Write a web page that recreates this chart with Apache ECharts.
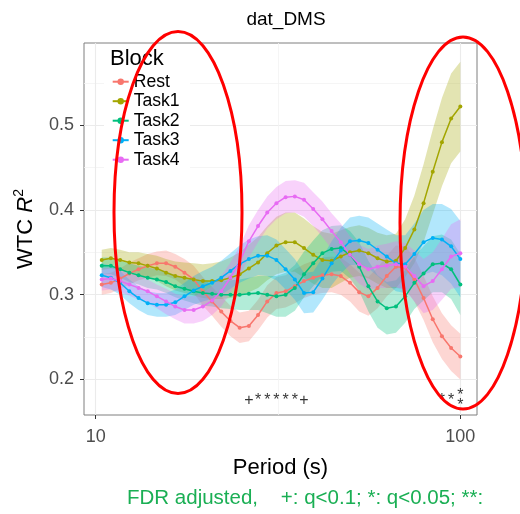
<!DOCTYPE html>
<html><head><meta charset="utf-8">
<script src="https://cdn.jsdelivr.net/npm/echarts@6/dist/echarts.min.js"></script>
<style>html,body{margin:0;padding:0;background:#fff}#c{width:520px;height:514px}</style>
</head><body><div id="c"></div>
<script>
// ---- data ----
const periods = [10.39,11.01,11.67,12.37,13.11,13.89,14.72,15.60,16.53,17.52,
  18.57,19.68,20.86,22.10,23.42,24.82,26.31,27.88,29.55,31.31,
  33.18,35.17,37.27,39.50,41.86,44.36,47.01,49.82,52.80,55.96,
  59.30,62.85,66.60,70.59,74.81,79.28,84.02,89.04,94.36,100.00];

const rest  = [0.312,0.314,0.319,0.325,0.330,0.334,0.337,0.337,0.333,0.326,
  0.318,0.304,0.292,0.280,0.269,0.261,0.263,0.276,0.292,0.302,
  0.304,0.310,0.316,0.320,0.323,0.324,0.322,0.314,0.303,0.298,
  0.308,0.322,0.333,0.332,0.318,0.296,0.271,0.251,0.237,0.227];
const task1 = [0.341,0.343,0.341,0.338,0.337,0.334,0.331,0.326,0.322,0.320,
  0.318,0.316,0.316,0.317,0.320,0.324,0.331,0.338,0.349,0.358,
  0.362,0.362,0.355,0.347,0.341,0.340,0.345,0.350,0.352,0.349,
  0.343,0.339,0.340,0.355,0.377,0.408,0.445,0.480,0.508,0.522];
const task2 = [0.334,0.334,0.330,0.326,0.323,0.320,0.318,0.315,0.310,0.307,
  0.304,0.302,0.301,0.300,0.300,0.300,0.301,0.302,0.300,0.298,
  0.300,0.308,0.324,0.337,0.349,0.354,0.355,0.347,0.333,0.310,
  0.292,0.284,0.286,0.298,0.314,0.325,0.336,0.337,0.330,0.312];
const task3 = [0.323,0.320,0.314,0.304,0.296,0.290,0.288,0.288,0.291,0.298,
  0.305,0.310,0.314,0.320,0.328,0.336,0.342,0.346,0.346,0.341,
  0.330,0.318,0.302,0.303,0.319,0.337,0.352,0.363,0.364,0.361,
  0.353,0.345,0.337,0.336,0.348,0.362,0.367,0.365,0.357,0.342];
const task4 = [0.318,0.319,0.316,0.312,0.308,0.304,0.298,0.292,0.286,0.282,
  0.282,0.286,0.293,0.304,0.320,0.339,0.363,0.381,0.397,0.408,
  0.415,0.416,0.412,0.401,0.389,0.375,0.362,0.347,0.336,0.330,
  0.333,0.334,0.336,0.333,0.322,0.310,0.316,0.330,0.345,0.349];

// half widths of the confidence ribbons
const restHW  = [0.012,0.012,0.012,0.013,0.013,0.014,0.014,0.015,0.015,0.016,
  0.016,0.017,0.017,0.018,0.018,0.018,0.018,0.018,0.019,0.019,
  0.019,0.020,0.020,0.020,0.021,0.021,0.022,0.022,0.023,0.023,
  0.024,0.024,0.025,0.025,0.026,0.026,0.027,0.027,0.027,0.027];
const task1HW = [0.012,0.012,0.012,0.012,0.013,0.014,0.015,0.016,0.017,0.018,
  0.019,0.020,0.021,0.022,0.024,0.026,0.028,0.030,0.032,0.034,
  0.035,0.035,0.035,0.034,0.033,0.032,0.031,0.030,0.030,0.030,
  0.030,0.031,0.032,0.034,0.040,0.046,0.050,0.052,0.053,0.053];
const task2HW = [0.010,0.010,0.010,0.011,0.011,0.012,0.012,0.013,0.013,0.014,
  0.014,0.015,0.015,0.016,0.017,0.018,0.019,0.020,0.022,0.024,
  0.026,0.027,0.027,0.027,0.027,0.027,0.027,0.028,0.029,0.030,
  0.031,0.031,0.031,0.031,0.031,0.032,0.033,0.034,0.035,0.036];
const task3HW = [0.014,0.014,0.014,0.014,0.014,0.014,0.014,0.014,0.015,0.016,
  0.017,0.018,0.019,0.020,0.021,0.022,0.023,0.023,0.024,0.024,
  0.024,0.024,0.024,0.024,0.025,0.026,0.027,0.028,0.029,0.030,
  0.031,0.032,0.033,0.034,0.036,0.038,0.040,0.042,0.044,0.045];
const task4HW = [0.013,0.013,0.013,0.013,0.014,0.014,0.014,0.015,0.015,0.016,
  0.016,0.017,0.017,0.018,0.018,0.018,0.019,0.019,0.019,0.019,
  0.019,0.019,0.020,0.020,0.021,0.021,0.022,0.022,0.023,0.024,
  0.025,0.026,0.027,0.028,0.030,0.032,0.034,0.036,0.038,0.040];

const seriesNames = ['Rest','Task1','Task2','Task3','Task4'];
const yTicks = [0.2, 0.3, 0.4, 0.5];
const yMinorGrid = [0.25, 0.35, 0.45, 0.55];
const xTicks = [10, 100];
const xMinorGrid = [31.62];

const annotPeriods = [26.31,27.88,29.55,31.31,33.18,35.17,37.27,89.04,94.36,100.00];
const annotLabels  = ['+','*','*','*','*','*','+','*','*','*\n*'];

// ---- styling ----
const colors = ['#F8766D','#A3A500','#00BF7D','#00B0F6','#E76BF3'];
const means = [rest, task1, task2, task3, task4];
const hws = [restHW, task1HW, task2HW, task3HW, task4HW];
const FONT = '"Liberation Sans", Arial, Helvetica, sans-serif';
const ANNOT_Y = 0.175;

const chart = echarts.init(document.getElementById('c'), null, {renderer: 'canvas'});

const gridLines = [];
yTicks.forEach(v => gridLines.push({yAxis: v, lineStyle: {color: '#EBEBEB', width: 1.1, type: 'solid'}}));
yMinorGrid.forEach(v => gridLines.push({yAxis: v, lineStyle: {color: '#F2F2F2', width: 0.8, type: 'solid'}}));
xTicks.forEach(v => gridLines.push({xAxis: v, lineStyle: {color: '#EBEBEB', width: 1.1, type: 'solid'}}));
xMinorGrid.forEach(v => gridLines.push({xAxis: v, lineStyle: {color: '#F2F2F2', width: 0.8, type: 'solid'}}));

const series = [{
  name: 'gridhelper', type: 'line', data: periods.map((p, k) => [p, rest[k]]),
  symbol: 'none', lineStyle: {opacity: 0}, silent: true, z: 1,
  markLine: {silent: true, z: 1, symbol: ['none', 'none'], label: {show: false}, animation: false, data: gridLines}
}];

function bandRenderer(i) {
  return function (params, api) {
    if (params.dataIndex !== 0) return null;
    const upper = [], lower = [];
    for (let k = 0; k < periods.length; k++) {
      upper.push(api.coord([periods[k], means[i][k] + hws[i][k]]));
      lower.push(api.coord([periods[k], means[i][k] - hws[i][k]]));
    }
    const pts = upper.concat(lower.reverse());
    return {
      type: 'polygon',
      shape: {points: pts},
      style: {fill: colors[i], opacity: 0.3, stroke: null}
    };
  };
}

seriesNames.forEach((nm, i) => {
  series.push({
    name: nm + '_band', type: 'custom', silent: true, z: 2,
    renderItem: bandRenderer(i),
    encode: {x: 0, y: [1, 2]},
    data: periods.map((p, k) => [p, means[i][k] - hws[i][k], means[i][k] + hws[i][k]])
  });
  series.push({
    name: nm, type: 'line',
    data: periods.map((p, k) => [p, means[i][k]]),
    symbol: 'circle', symbolSize: 4, showSymbol: true,
    lineStyle: {color: colors[i], width: 1.5}, itemStyle: {color: colors[i]}, z: 2
  });
});

series.push({
  name: 'annot', type: 'scatter', silent: true, z: 20,
  symbolSize: 1, itemStyle: {color: 'transparent'},
  data: annotPeriods.map((p, k) => ({value: [p, ANNOT_Y], label: {formatter: annotLabels[k]}})),
  label: {show: true, position: 'inside', fontSize: 16, lineHeight: 10, color: '#000', fontFamily: FONT}
});

const option = {
  animation: false,
  backgroundColor: '#fff',
  title: {
    text: 'dat_DMS', left: 281, top: 5, textAlign: 'center',
    textStyle: {fontSize: 19, fontWeight: 'normal', color: '#000', fontFamily: FONT}
  },
  grid: {left: 84, right: 43, top: 43, bottom: 99, show: true, borderColor: '#7F7F7F', borderWidth: 1, backgroundColor: '#fff'},
  xAxis: {
    type: 'log', logBase: 10, min: 9.29, max: 111.1,
    splitLine: {show: false}, axisLine: {show: false},
    axisTick: {show: true, length: 4, lineStyle: {color: '#333'}},
    axisLabel: {showMinLabel: false, showMaxLabel: false, fontSize: 18, color: '#4D4D4D', margin: 13, fontFamily: FONT},
    name: 'Period (s)', nameLocation: 'middle', nameGap: 42,
    nameTextStyle: {fontSize: 22, color: '#000', fontFamily: FONT}
  },
  yAxis: {
    type: 'value', min: 0.158, max: 0.597,
    splitLine: {show: false}, axisLine: {show: false},
    axisTick: {show: true, length: 4, lineStyle: {color: '#333'}, customValues: yTicks},
    axisLabel: {customValues: yTicks, formatter: v => (+v).toFixed(1), fontSize: 18, color: '#4D4D4D', margin: 10, fontFamily: FONT},
    name: '{a|WTC }{i|R}{s|2}', nameLocation: 'middle', nameRotate: 90, nameGap: 44,
    nameTextStyle: {
      fontFamily: FONT, color: '#000',
      rich: {
        a: {fontSize: 22, color: '#000', fontFamily: FONT},
        i: {fontSize: 22, color: '#000', fontStyle: 'italic', fontFamily: FONT},
        s: {fontSize: 14, color: '#000', fontFamily: FONT, padding: [0, 0, 14, 0]}
      }
    }
  },
  legend: {
    data: seriesNames, orient: 'vertical', left: 111.7, top: 72.7, padding: 0,
    itemGap: 1.5, itemWidth: 16, itemHeight: 8, selectedMode: false, z: 10,
    textStyle: {fontSize: 17.6, lineHeight: 18, color: '#000', fontFamily: FONT}
  },
  graphic: [
    {type: 'rect', left: 104, top: 44, z: 5, shape: {width: 86, height: 128}, style: {fill: '#fff'}},
    {type: 'text', left: 110, top: 48, z: 11, style: {text: 'Block', fontSize: 22, fill: '#000', fontFamily: FONT}},
    {type: 'ellipse', z: 100, shape: {cx: 178, cy: 212.5, rx: 64, ry: 181}, style: {fill: 'none', stroke: '#FF0000', lineWidth: 3}},
    {type: 'ellipse', z: 100, shape: {cx: 463, cy: 223, rx: 63, ry: 186}, style: {fill: 'none', stroke: '#FF0000', lineWidth: 3}},
    {type: 'text', left: 127, top: 488, z: 11, style: {text: 'FDR adjusted,    +: q<0.1; *: q<0.05; **:', fontSize: 20.5, fill: '#1AAF54', fontFamily: FONT}}
  ],
  series: series
};
chart.setOption(option);
</script></body></html>
